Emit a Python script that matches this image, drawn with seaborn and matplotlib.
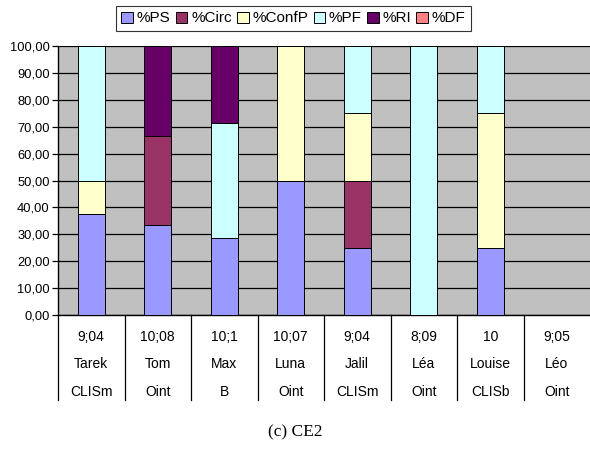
import numpy as np
import pandas as pd
import seaborn as sns
import matplotlib.pyplot as plt
import matplotlib.transforms as mtransforms
from matplotlib.patches import Patch

# donnees (CE2)
ages = ["9;04", "10;08", "10;1", "10;07", "9;04", "8;09", "10", "9;05"]
names = ["Tarek", "Tom", "Max", "Luna", "Jalil", "Léa", "Louise", "Léo"]
classes = ["CLISm", "Oint", "B", "Oint", "CLISm", "Oint", "CLISb", "Oint"]

series = ["%PS", "%Circ", "%ConfP", "%PF", "%RI", "%DF"]
ps = [37.5, 33.33, 28.57, 50.0, 25.0, 0.0, 25.0, 0.0]
circ = [0.0, 33.33, 0.0, 0.0, 25.0, 0.0, 0.0, 0.0]
confp = [12.5, 0.0, 0.0, 50.0, 25.0, 0.0, 50.0, 0.0]
pf = [50.0, 0.0, 42.86, 0.0, 25.0, 100.0, 25.0, 0.0]
ri = [0.0, 33.34, 28.57, 0.0, 0.0, 0.0, 0.0, 0.0]
df_ = [0.0, 0.0, 0.0, 0.0, 0.0, 0.0, 0.0, 0.0]
colors = ["#9999FF", "#993366", "#FFFFCC", "#CCFFFF", "#660066", "#FF8080"]

data = pd.DataFrame({"eleve": names, "%PS": ps, "%Circ": circ, "%ConfP": confp,
                     "%PF": pf, "%RI": ri, "%DF": df_})

fig = plt.figure(figsize=(5.9, 4.61), dpi=100)
ax = fig.add_axes([58 / 590, 1 - 315 / 461, 532 / 590, 269 / 461])
ax.set_facecolor("#C0C0C0")

bottom = np.zeros(len(names))
for s, c in zip(series, colors):
    sns.barplot(data=data, x="eleve", y=s, order=names, color=c, bottom=bottom,
                width=0.4, edgecolor="black", linewidth=0.7, ax=ax, zorder=3,
                saturation=1)
    bottom = bottom + data[s].values

ax.set_ylim(0, 100)
ax.set_xlim(-0.5, len(names) - 0.5)
ax.set_yticks(np.arange(0, 101, 10))
ax.set_yticklabels([f"{v:.2f}".replace(".", ",") for v in range(0, 101, 10)],
                   fontsize=9.3, family="Liberation Sans")
ax.yaxis.grid(True, color="black", linewidth=0.9, zorder=1)
ax.set_axisbelow(True)
ax.tick_params(axis="y", length=4, width=0.9, pad=2)
ax.tick_params(axis="x", length=0, labelbottom=False)
ax.set_xlabel("")
ax.set_ylabel("")
for side in ["top", "right"]:
    ax.spines[side].set_visible(False)
ax.spines["left"].set_linewidth(1.0)
ax.spines["bottom"].set_linewidth(1.0)

# tableau des categories sous l'axe
trans = mtransforms.blended_transform_factory(ax.transData, ax.transAxes)
row_y = [-(336.7 - 315) / 269, -(364 - 315) / 269, -(391.7 - 315) / 269]
for i in range(len(names)):
    for yy, txt in zip(row_y, [ages[i], names[i], classes[i]]):
        ax.text(i, yy, txt, transform=trans, ha="center", va="center",
                fontsize=10, family="Liberation Sans")
for k in range(len(names)):
    ax.plot([k - 0.5, k - 0.5], [0, -85 / 269], transform=trans, color="black",
            linewidth=0.9, clip_on=False)

handles = [Patch(facecolor=c, edgecolor="black", linewidth=0.7) for c in colors]
leg = fig.legend(handles, series, loc="center", bbox_to_anchor=(293.5 / 590, 1 - 18.5 / 461),
                 ncol=6, frameon=True, fancybox=False,
                 prop={"family": "Liberation Sans", "size": 11},
                 handlelength=0.75, handleheight=0.75, handletextpad=0.25,
                 columnspacing=0.35, borderpad=0.35, borderaxespad=0)
leg.get_frame().set_edgecolor("black")
leg.get_frame().set_linewidth(0.8)

fig.text(0.5, 1 - 432 / 461, "(c) CE2", ha="center", va="center",
         fontsize=12.5, family="Liberation Serif")

fig.savefig("out.png", dpi=100)
